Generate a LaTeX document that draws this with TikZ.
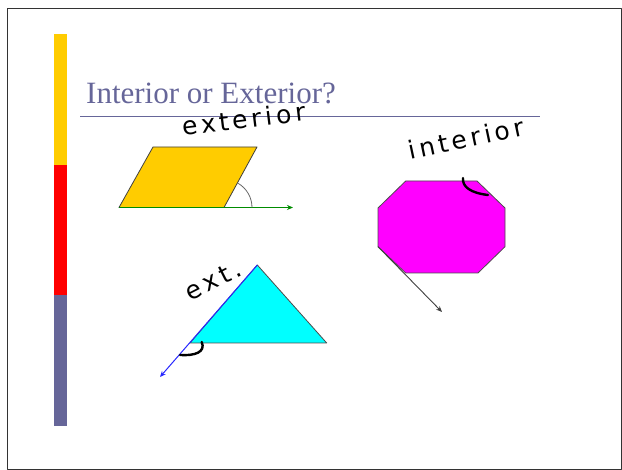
\documentclass[tikz,border=0pt]{standalone}
\usepackage{fontspec}
\setmainfont{Liberation Serif}
\newfontfamily\handfont[LetterSpace=15]{DejaVu Sans}
\usetikzlibrary{arrows.meta}
\definecolor{slidegrey}{RGB}{102,102,153}
\definecolor{baryellow}{RGB}{255,204,0}
\definecolor{barred}{RGB}{255,0,0}
\definecolor{octmagenta}{RGB}{255,0,255}
\definecolor{tricyan}{RGB}{0,255,255}
\definecolor{extgreen}{RGB}{0,140,0}
\definecolor{extblue}{RGB}{40,40,255}

\begin{document}
\begin{tikzpicture}[x=1pt, y=-1pt, line join=round,
    hand/.style={anchor=base, inner sep=0pt, font=\handfont\fontsize{25}{25}\selectfont},
    stroke/.style={black, line width=2.4pt, line cap=round}]
    \useasboundingbox (0,0) rectangle (622,470);
    \draw[black!80, line width=1pt] (7.5,8.5) rectangle (621.5,469.5);

    \fill[baryellow] (54,34) rectangle (67,165);
    \fill[barred] (54,165) rectangle (67,295);
    \fill[slidegrey] (54,295) rectangle (67,426);

    \node[anchor=base west, inner sep=0pt, text=slidegrey, font=\fontsize{31}{31}\selectfont]
        (title) at (86,103.3) {Interior or Exterior?};
    \draw[slidegrey, line width=1pt] (80,117) -- (540,117);

    % parallelogram
    \coordinate (pa) at (119,207.5);
    \coordinate (pb) at (224,207.5);
    \coordinate (pc) at (257,147);
    \coordinate (pd) at (153,147);
    \coordinate (ptip) at (293,207.5);
    \filldraw[fill=baryellow, draw=black!75, line width=0.8pt] (pa) -- (pb) -- (pc) -- (pd) -- cycle;
    \draw[extgreen, line width=1pt, -{Stealth[length=6pt, width=5pt]}] (pa) -- (ptip);
    \draw[black!60, line width=0.8pt] (pb) ++(28,0) arc[start angle=0, end angle=-61, radius=28];
    \node[hand, rotate=7] (extlabel) at (245,128) {exterior};

    % octagon
    \coordinate (o1) at (405.7,181);
    \coordinate (o2) at (477,181);
    \coordinate (o3) at (505,208);
    \coordinate (o4) at (505,246.7);
    \coordinate (o5) at (478,273);
    \coordinate (o6) at (405.7,273);
    \coordinate (o7) at (378,246.7);
    \coordinate (o8) at (378,208);
    \coordinate (otip) at (442,312);
    \filldraw[fill=octmagenta, draw=black!70, line width=0.8pt]
        (o1) -- (o2) -- (o3) -- (o4) -- (o5) -- (o6) -- (o7) -- (o8) -- cycle;
    \draw[black!75, line width=0.9pt, -{Stealth[length=6pt, width=5pt]}] (o7) -- (otip);
    \draw[stroke] (463,178) .. controls (462,187) and (471,193) .. (488,195);
    \node[hand, rotate=12] (intlabel) at (468,147.5) {interior};

    % triangle
    \coordinate (ta) at (257.3,265);
    \coordinate (tb) at (326.7,343);
    \coordinate (tc) at (190,343);
    \coordinate (ttip) at (160,377);
    \filldraw[fill=tricyan, draw=black!70, line width=0.8pt] (ta) -- (tb) -- (tc) -- cycle;
    \draw[extblue, line width=1pt, -{Stealth[length=6pt, width=5pt]}] (ta) -- (ttip);
    \draw[stroke] (201.7,342) .. controls (206,352) and (195,356) .. (180,355);
    \node[hand, rotate=27] (trilabel) at (217,288) {ext.};
\end{tikzpicture}
\end{document}
